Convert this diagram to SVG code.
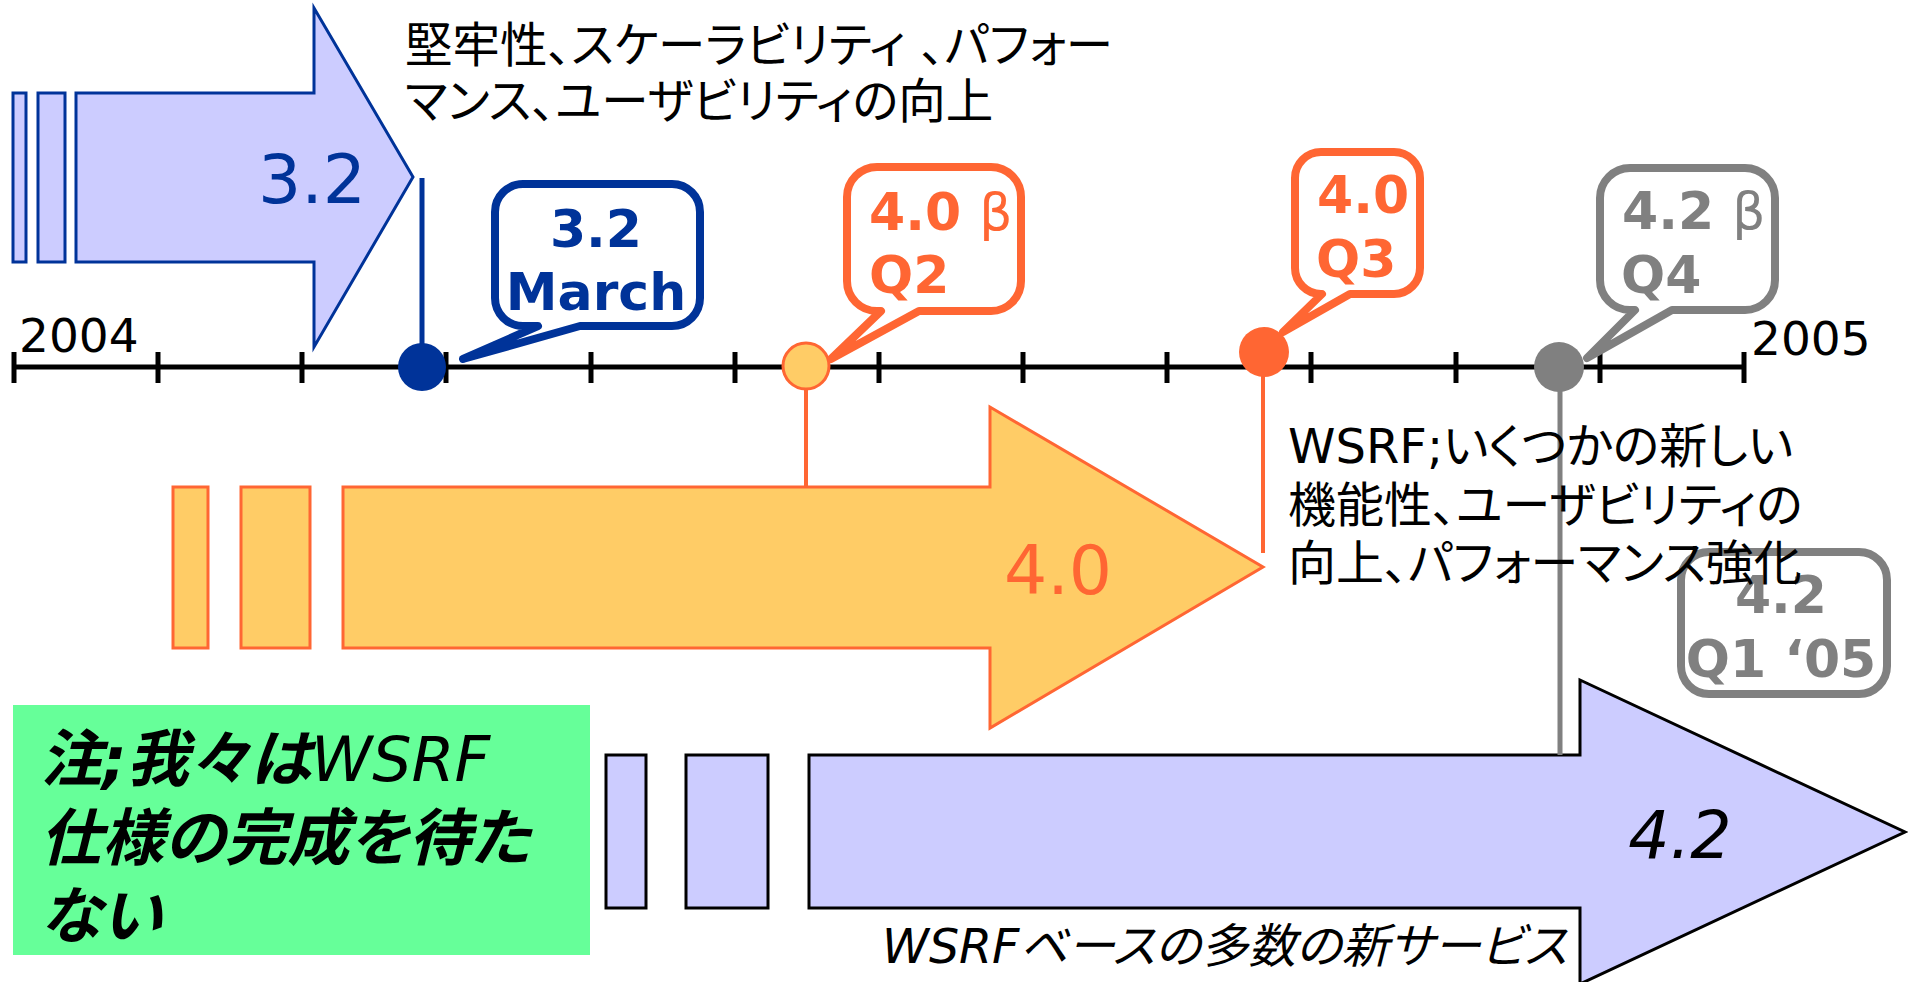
<svg xmlns="http://www.w3.org/2000/svg" width="1908" height="982" viewBox="0 0 1908 982">
<style>
.lat{font-family:"DejaVu Sans","Noto Sans CJK JP",sans-serif;}
.jp{font-family:"DejaVu Sans","Noto Sans CJK JP",sans-serif;font-feature-settings:"palt";font-size:48px;fill:#000;}
.note{font-family:"DejaVu Sans","Noto Sans CJK JP",sans-serif;font-feature-settings:"palt";font-size:62px;font-style:italic;font-weight:bold;fill:#000;}
.blueA{fill:#CCCCFF;stroke:#003399;stroke-width:3;}
.orA{fill:#FFCC66;stroke:#FF6633;stroke-width:3;}
.botA{fill:#CCCCFF;stroke:#000;stroke-width:3;}
.call{fill:#fff;stroke-width:8;stroke-linejoin:round;}
.tick{stroke:#000;stroke-width:5;}
.cb{font-family:"DejaVu Sans",sans-serif;font-weight:bold;font-size:52px;}
</style>
<rect width="1908" height="982" fill="#fff"/>

<g id="arrow-3-2">
<rect class="blueA" x="13" y="93" width="13" height="169"/>
<rect class="blueA" x="38" y="93" width="27" height="169"/>
<polygon class="blueA" points="76,93 314,93 314,8 413,177 314,347 314,262 76,262"/>
<text class="lat" x="312" y="203" font-size="68" fill="#003399" text-anchor="middle">3.2</text>
</g>

<g id="arrow-4-0">
<rect class="orA" x="173" y="487" width="35" height="161"/>
<rect class="orA" x="241" y="487" width="69" height="161"/>
<polygon class="orA" points="343,487 990,487 990,407 1263,567 990,728 990,648 343,648"/>
<text class="lat" x="1058" y="594" font-size="68" fill="#FF6633" text-anchor="middle">4.0</text>
</g>

<g id="arrow-4-2">
<rect class="botA" x="606" y="755" width="40" height="153"/>
<rect class="botA" x="686" y="755" width="82" height="153"/>
<polygon class="botA" points="809,755 1580,755 1580,680 1905,832 1580,984 1580,908 809,908"/>
<text class="lat" x="1680" y="858" font-size="65" font-style="italic" fill="#000" text-anchor="middle">4.2</text>
</g>

<g id="timeline">
<line x1="14" y1="367" x2="1745" y2="367" stroke="#000" stroke-width="5"/>
<line class="tick" x1="14" y1="352" x2="14" y2="383"/>
<line class="tick" x1="158" y1="352" x2="158" y2="383"/>
<line class="tick" x1="302" y1="352" x2="302" y2="383"/>
<line class="tick" x1="446" y1="352" x2="446" y2="383"/>
<line class="tick" x1="591" y1="352" x2="591" y2="383"/>
<line class="tick" x1="735" y1="352" x2="735" y2="383"/>
<line class="tick" x1="879" y1="352" x2="879" y2="383"/>
<line class="tick" x1="1023" y1="352" x2="1023" y2="383"/>
<line class="tick" x1="1167" y1="352" x2="1167" y2="383"/>
<line class="tick" x1="1311" y1="352" x2="1311" y2="383"/>
<line class="tick" x1="1456" y1="352" x2="1456" y2="383"/>
<line class="tick" x1="1600" y1="352" x2="1600" y2="383"/>
<line class="tick" x1="1744" y1="352" x2="1744" y2="383"/>
<text class="lat" x="19" y="352" font-size="47" fill="#000">2004</text>
<text class="lat" x="1751" y="355" font-size="47" fill="#000">2005</text>
</g>

<g id="connectors">
<line x1="422" y1="178" x2="422" y2="367" stroke="#003399" stroke-width="5"/>
<line x1="806" y1="390" x2="806" y2="487" stroke="#FF6633" stroke-width="4"/>
<line x1="1263" y1="375" x2="1263" y2="553" stroke="#FF6633" stroke-width="4"/>
<line x1="1560" y1="390" x2="1560" y2="755" stroke="#808080" stroke-width="5"/>
</g>

<g id="m-3-2">
<circle cx="422" cy="367" r="24" fill="#003399"/>
<path class="call" stroke="#003399" d="M523,184 H672 A28,28 0 0 1 700,212 V298 A28,28 0 0 1 672,326 H580 L463,359 L538,326 H523 A28,28 0 0 1 495,298 V212 A28,28 0 0 1 523,184 Z"/>
<text class="cb" x="596" y="247" fill="#003399" text-anchor="middle" font-size="53">3.2</text>
<text class="cb" x="596" y="310" fill="#003399" text-anchor="middle" font-size="53">March</text>
</g>

<g id="m-4-0b">
<circle cx="806" cy="366" r="23" fill="#FFCC66" stroke="#FF6633" stroke-width="3"/>
<path class="call" stroke="#FF6633" d="M877,167 H991 A30,30 0 0 1 1021,197 V281 A30,30 0 0 1 991,311 H919 L831,359 L881,311 H877 A30,30 0 0 1 847,281 V197 A30,30 0 0 1 877,167 Z"/>
<text class="cb" x="869" y="230" fill="#FF6633">4.0 <tspan font-weight="normal">β</tspan></text>
<text class="cb" x="869" y="293" fill="#FF6633">Q2</text>
</g>

<g id="m-4-0">
<circle cx="1264" cy="352" r="25" fill="#FF6633"/>
<path class="call" stroke="#FF6633" d="M1321,152 H1394 A26,26 0 0 1 1420,178 V268 A26,26 0 0 1 1394,294 H1350 L1283,332 L1322,294 H1321 A26,26 0 0 1 1295,268 V178 A26,26 0 0 1 1321,152 Z"/>
<text class="cb" x="1317" y="213" fill="#FF6633">4.0</text>
<text class="cb" x="1316" y="277" fill="#FF6633">Q3</text>
</g>

<g id="m-4-2b">
<circle cx="1559" cy="367" r="25" fill="#808080"/>
<path class="call" stroke="#808080" d="M1630,168 H1745 A30,30 0 0 1 1775,198 V280 A30,30 0 0 1 1745,310 H1672 L1587,358 L1635,310 H1630 A30,30 0 0 1 1600,280 V198 A30,30 0 0 1 1630,168 Z"/>
<text class="cb" x="1622" y="229" fill="#808080">4.2 <tspan font-weight="normal">β</tspan></text>
<text class="cb" x="1621" y="293" fill="#808080">Q4</text>
</g>

<g id="m-4-2">
<rect class="call" stroke="#808080" x="1681" y="552" width="206" height="142" rx="28"/>
<text class="cb" x="1781" y="613" fill="#808080" text-anchor="middle">4.2</text>
<text class="cb" x="1781" y="677" fill="#808080" text-anchor="middle">Q1 ‘05</text>
</g>

<g id="desc-3-2">
<text class="jp" x="405" y="62" style="font-size:47.5px">堅牢性、スケーラビリティ 、パフォー</text>
<text class="jp" x="405" y="118" style="font-size:47.5px">マンス、ユーザビリティの向上</text>
</g>

<g id="desc-4-0">
<text class="jp" x="1288" y="463">WSRF;いくつかの新しい</text>
<text class="jp" x="1288" y="522">機能性、ユーザビリティの</text>
<text class="jp" x="1288" y="580">向上、パフォーマンス強化</text>
</g>

<g id="desc-4-2">
<text class="jp" x="882" y="963" font-style="italic" style="font-size:47.5px">WSRFベースの多数の新サービス</text>
</g>

<g id="note">
<rect x="13" y="705" width="577" height="250" fill="#66FF99"/>
<text class="note" x="40" y="781">注;我々は<tspan font-weight="normal">WSRF</tspan></text>
<text class="note" x="40" y="860">仕様の完成を待た</text>
<text class="note" x="40" y="938">ない</text>
</g>
</svg>
